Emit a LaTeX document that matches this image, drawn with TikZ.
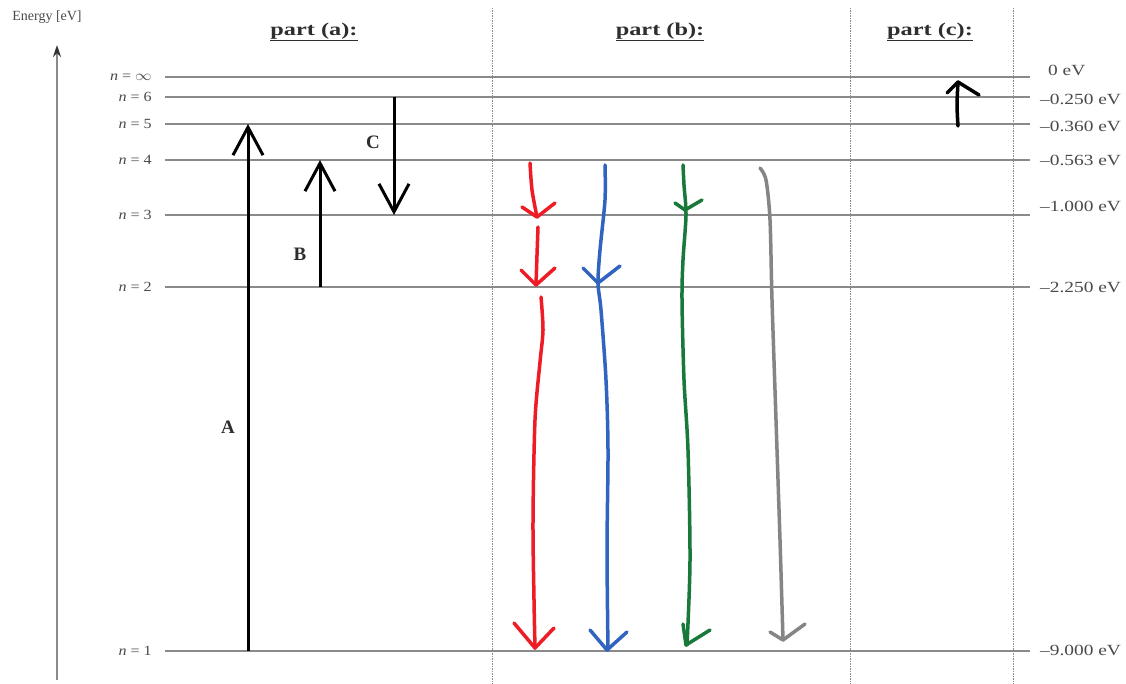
\documentclass[tikz,border=0pt]{standalone}
\usepackage{fontspec}
\setmainfont{Liberation Serif}
\usetikzlibrary{arrows.meta}
\definecolor{levelgray}{HTML}{8A8A8A}
\definecolor{sepgray}{HTML}{8C8C8C}
\definecolor{labgray}{HTML}{4A4A4A}
\definecolor{headgray}{HTML}{2E2E2E}
\definecolor{redpen}{HTML}{EE1C25}
\definecolor{bluepen}{HTML}{3163C0}
\definecolor{greenpen}{HTML}{18793A}
\definecolor{graypen}{HTML}{858585}
\newcommand{\wide}[2]{\scalebox{#1}[1]{#2}}
\begin{document}
\begin{tikzpicture}[x=1pt,y=-1pt,
  level/.style={draw=levelgray, line width=2pt},
  sep/.style={draw=sepgray, line width=1pt, dash pattern=on 1.5pt off 1pt},
  lvllab/.style={anchor=east, text=labgray, font=\fontsize{14}{15}\selectfont, inner sep=0pt},
  evlab/.style={anchor=west, text=labgray, font=\fontsize{15.5}{16}\selectfont, inner sep=0pt},
  head/.style={font=\bfseries\fontsize{18}{19}\selectfont, text=headgray, inner sep=0pt},
  trlab/.style={font=\bfseries\fontsize{19}{20}\selectfont, text=headgray, inner sep=0pt},
  trans/.style={line width=3pt, -{Straight Barb[length=28pt,width=30pt,line width=3pt]}},
  hand/.style={line width=3.5pt, line cap=round, line join=round}]
\path[use as bounding box, fill=white] (0,0) rectangle (1126,684);

% energy axis
\coordinate (ax0) at (57,680);
\coordinate (ax1) at (57,45);
\draw[draw=levelgray, line width=2pt, -{Stealth[length=12pt,width=8pt,color=black!80]}] (ax0) -- (ax1);
\node[text=labgray, font=\fontsize{14}{15}\selectfont, inner sep=0pt] (elab) at (47,17) {Energy [eV]};

% separators
\foreach \x/\n in {492/s1, 850/s2, 1013/s3}{
  \coordinate (\n t) at (\x,8);
  \coordinate (\n b) at (\x,684);
  \draw[sep] (\n t) -- (\n b);
}

% headers
\node[head] (pa) at (314,32) {\wide{1.35}{\underline{part (a):}}};
\node[head] (pb) at (660,32) {\wide{1.35}{\underline{part (b):}}};
\node[head] (pc) at (930,32) {\wide{1.35}{\underline{part (c):}}};

% energy levels
\foreach \y/\nm/\lab/\ev/\evx/\evy in {77/inf/$\infty$/0 eV/1048/70, 97/six/6/--0.250 eV/1040/99, 124/five/5/--0.360 eV/1040/126, 160/four/4/--0.563 eV/1040/160, 215/three/3/--1.000 eV/1040/206, 287/two/2/--2.250 eV/1040/287, 651/one/1/--9.000 eV/1040/650}{
  \coordinate (L\nm) at (165,\y);
  \coordinate (R\nm) at (1030,\y);
  \draw[level] (L\nm) -- (R\nm);
  \node[lvllab] (nl\nm) at (152,\y) {\wide{1.15}{\textit{n} = \lab}};
  \node[evlab] (ev\nm) at (\evx,\evy) {\wide{1.25}{\ev}};
}

% part (a) transitions
\coordinate (A0) at (248,651); \coordinate (A1) at (248,124);
\coordinate (B0) at (320,287); \coordinate (B1) at (320,160);
\coordinate (C0) at (394,97);  \coordinate (C1) at (394,215);
\draw[trans] (A0) -- (A1);
\draw[trans] (B0) -- (B1);
\draw[trans] (C0) -- (C1);
\node[trlab] (la) at (228,427) {A};
\node[trlab] (lb) at (300,254) {B};
\node[trlab] (lc) at (373,142) {C};

% part (b) hand-drawn arrows
% red
\draw[hand, redpen] plot[smooth] coordinates {(530,163) (532,190) (537,217)};
\draw[hand, redpen] (522,207) -- (537,217) -- (555,203);
\draw[hand, redpen] plot[smooth] coordinates {(538,227) (537,255) (536,285)};
\draw[hand, redpen] (521,270) -- (536,285) -- (555,268);
\draw[hand, redpen] plot[smooth] coordinates {(541,297) (543,330) (540,362) (535,420) (533,520) (534,600) (535,648)};
\draw[hand, redpen] (514,623) -- (535,648) -- (554,628);
% blue
\draw[hand, bluepen] plot[smooth] coordinates {(605,165) (605,200) (600,250) (598,283) (601,310) (606,380) (608,450) (607,550) (608,650)};
\draw[hand, bluepen] (583,268) -- (598,283) -- (620,266);
\draw[hand, bluepen] (590,630) -- (607,650) -- (627,632);
% green
\draw[hand, greenpen] plot[smooth] coordinates {(683,165) (684,185) (686,215) (683,260) (682,300) (684,380) (688,450) (690,560) (687,645)};
\draw[hand, greenpen] (675,203) -- (685,210) -- (702,200);
\draw[hand, greenpen] (683,624) -- (686,645) -- (710,630);
% gray
\draw[hand, graypen] plot[smooth] coordinates {(760,168) (766,180) (770,220) (772,300) (776,420) (780,540) (783,640)};
\draw[hand, graypen] (770,632) -- (783,640) -- (805,624);

% part (c)
\draw[hand, black] plot[smooth] coordinates {(958,126) (957,105) (958,82)};
\draw[hand, black] (947,93) -- (958,82) -- (979,95);
\end{tikzpicture}
\end{document}
